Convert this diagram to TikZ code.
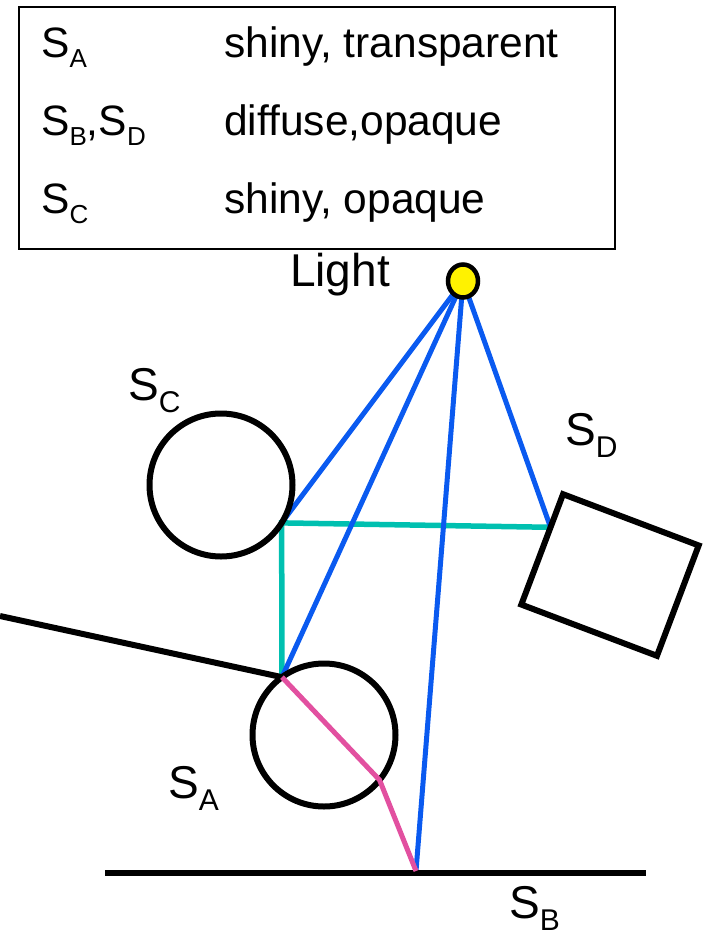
\documentclass[tikz,border=0pt]{standalone}
\usepackage{fontspec}
\setmainfont{Liberation Sans}
\usetikzlibrary{shapes.geometric,calc}
\pgfdeclarelayer{bg}
\pgfsetlayers{bg,main}
\newcommand\lsb[1]{\raisebox{-10.5pt}{\fontsize{26}{26}\selectfont #1}}
\newcommand\gsb[1]{\raisebox{-12pt}{\fontsize{30}{30}\selectfont #1}}
\definecolor{rayblue}{RGB}{10,90,240}
\definecolor{raycyan}{RGB}{0,192,176}
\definecolor{raypink}{RGB}{226,80,160}
\begin{document}
\begin{tikzpicture}[x=1pt,y=-1pt,
  surf/.style={draw=black, line width=6pt, inner sep=0pt, outer sep=0pt},
  sphere/.style={circle, surf, minimum size=143pt},
  legtext/.style={anchor=base west, inner sep=0pt, font=\fontsize{42.5}{42.5}\selectfont},
  lbl/.style={anchor=base west, inner sep=0pt, font=\fontsize{46}{46}\selectfont},
  blueray/.style={draw=rayblue, line width=5pt},
  cyanray/.style={draw=raycyan, line width=5.5pt, line join=miter},
  pinkray/.style={draw=raypink, line width=5pt},
]
\useasboundingbox (0,0) rectangle (710,935);

% legend
\node[draw=black, line width=2.5pt, minimum width=596pt, minimum height=242pt,
      anchor=north west, inner sep=0pt, outer sep=0pt] (legend) at (19,7) {};
\node[legtext] (la) at (41,57) {S\lsb{A}};
\node[legtext] (da) at (224,57) {shiny, transparent};
\node[legtext] (lbd) at (41,135) {S\lsb{B},S\lsb{D}};
\node[legtext] (dbd) at (224,135) {diffuse,opaque};
\node[legtext] (lc) at (41,213) {S\lsb{C}};
\node[legtext] (dc) at (224,213) {shiny, opaque};

% light
\node[lbl] (lighttxt) at (290,286) {Light};
\node[ellipse, draw=black, fill=yellow, line width=4.5pt, minimum width=30pt,
      minimum height=33pt, inner sep=0pt] (lamp) at (463,281) {};

% surfaces
\node[sphere] (SC) at (221,485) {};
\node[sphere] (SA) at (324,735) {};
\node[rectangle, surf, minimum width=145pt, minimum height=118pt, rotate=-20.7] (SD) at (610,575) {};
\coordinate (wall) at (0,616);
\coordinate (floorL) at (105,873);
\coordinate (floorR) at (646,873);
\draw[line width=6pt] (wall) -- (SA.126);
\draw[line width=6.5pt] (floorL) -- (floorR);

% labels
\node[lbl] (lblC) at (128,400) {S\gsb{C}};
\node[lbl] (lblD) at (565,445) {S\gsb{D}};
\node[lbl] (lblA) at (168,798) {S\gsb{A}};
\node[lbl] (lblB) at (509,918) {S\gsb{B}};

% hit points
\coordinate (hitD) at ($(SD.north west)!0.3!(SD.south west)$);
\coordinate (hitB) at (416,871);

% rays
\begin{pgfonlayer}{bg}
\draw[cyanray] (hitD) -- (SC.-32) -- (SA.126);
\draw[blueray] (lamp.center) -- (SC.-32);
\draw[blueray] (lamp.center) -- (SA.126);
\draw[blueray] (lamp.center) -- (hitB);
\draw[blueray] (lamp.center) -- (hitD);
\end{pgfonlayer}
\draw[pinkray, line join=round] (SA.126) -- (SA.-39.5) -- (hitB);
\end{tikzpicture}
\end{document}
